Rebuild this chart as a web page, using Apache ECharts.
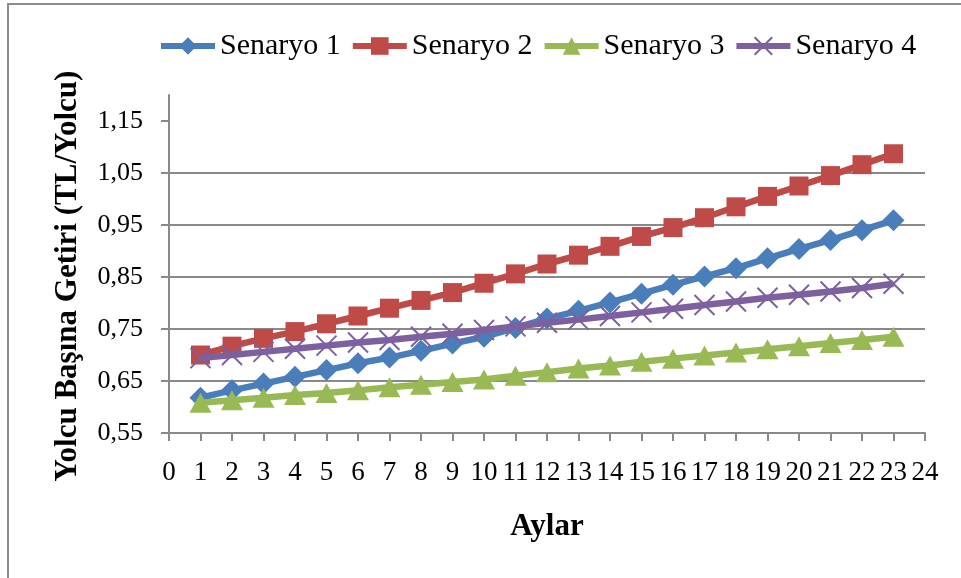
<!DOCTYPE html>
<html>
<head>
<meta charset="utf-8">
<script src="https://cdn.jsdelivr.net/npm/echarts@6/dist/echarts.min.js"></script>
<style>
  html, body { margin: 0; padding: 0; background: #ffffff; }
  #chart { width: 961px; height: 578px; }
</style>
</head>
<body>
<div id="chart"></div>
<script>
// Monthly revenue per passenger (TL/passenger) under four scenarios
const months = [1, 2, 3, 4, 5, 6, 7, 8, 9, 10, 11, 12, 13, 14, 15, 16, 17, 18, 19, 20, 21, 22, 23];
const seriesNames = ['Senaryo 1', 'Senaryo 2', 'Senaryo 3', 'Senaryo 4'];

const senaryo1 = [0.618, 0.632, 0.645, 0.658, 0.671, 0.684, 0.695, 0.708, 0.722, 0.735, 0.752, 0.770,
                  0.785, 0.801, 0.818, 0.835, 0.851, 0.867, 0.886, 0.904, 0.921, 0.940, 0.959];
const senaryo2 = [0.700, 0.717, 0.732, 0.745, 0.760, 0.775, 0.790, 0.805, 0.820, 0.838, 0.856, 0.875,
                  0.892, 0.909, 0.928, 0.945, 0.964, 0.985, 1.005, 1.025, 1.045, 1.066, 1.087];
const senaryo3 = [0.608, 0.613, 0.618, 0.623, 0.627, 0.632, 0.638, 0.643, 0.648, 0.653, 0.660, 0.667,
                  0.674, 0.680, 0.687, 0.693, 0.699, 0.705, 0.711, 0.717, 0.723, 0.729, 0.735];
const senaryo4 = [0.694, 0.700, 0.706, 0.712, 0.718, 0.724, 0.729, 0.735, 0.741, 0.748, 0.755, 0.762,
                  0.768, 0.775, 0.782, 0.789, 0.796, 0.803, 0.810, 0.816, 0.822, 0.829, 0.837];

const yTicks = [0.55, 0.65, 0.75, 0.85, 0.95, 1.05, 1.15];

const xTitle = 'Aylar';
const yTitle = 'Yolcu Başına Getiri (TL/Yolcu)';

const colors = ['#4A7EBB', '#BE4B48', '#98B954', '#7D60A0'];
const symbols = ['diamond', 'rect', 'triangle', 'path://M0,0L20,20M20,0L0,20'];
const symbolSizes = [22, 19, [22, 20], 20];

const FONT = 'Liberation Serif';
const GRID_GRAY = '#898989';
const LINE_WIDTH = 6.5;

const valueSets = [senaryo1, senaryo2, senaryo3, senaryo4];

const series = valueSets.map((vals, i) => {
  const isCross = i === 3;
  return {
    name: seriesNames[i],
    type: 'line',
    data: months.map((m, k) => [m, vals[k]]),
    symbol: symbols[i],
    symbolSize: symbolSizes[i],
    showAllSymbol: true,
    lineStyle: { color: colors[i], width: LINE_WIDTH },
    itemStyle: isCross
      ? { color: colors[i], borderColor: colors[i], borderWidth: 2 }
      : { color: colors[i], borderWidth: 0 },
    emphasis: { disabled: true },
    z: 2 + i
  };
});

const chart = echarts.init(document.getElementById('chart'), null, { renderer: 'canvas' });

chart.setOption({
  animation: false,
  backgroundColor: '#ffffff',
  color: colors,
  textStyle: { fontFamily: FONT, color: '#000' },
  graphic: [
    {
      type: 'rect',
      shape: { x: 8, y: 4, width: 1200, height: 1200 },
      style: { fill: 'none', stroke: '#8c8c8c', lineWidth: 2 },
      silent: true,
      z: -10
    },
    {
      type: 'text',
      x: 68,
      y: 276,
      rotation: Math.PI / 2,
      style: {
        text: yTitle,
        font: 'bold 31px "Liberation Serif"',
        fill: '#000',
        align: 'center',
        verticalAlign: 'middle'
      },
      silent: true
    }
  ],
  legend: {
    data: seriesNames,
    left: 153,
    top: 26,
    itemWidth: 54,
    itemHeight: 22,
    itemGap: 9,
    lineStyle: { width: 6 },
    textStyle: { fontFamily: FONT, fontSize: 30, color: '#000' },
    selectedMode: false
  },
  grid: { left: 169, right: 36, top: 95, bottom: 145, containLabel: false },
  xAxis: {
    type: 'value',
    min: 0,
    max: 24,
    interval: 1,
    name: xTitle,
    nameLocation: 'middle',
    nameGap: 78,
    nameTextStyle: { fontFamily: FONT, fontSize: 31, fontWeight: 'bold', color: '#000' },
    axisLine: { show: true, onZero: false, lineStyle: { color: GRID_GRAY, width: 2 } },
    axisTick: { show: true, inside: false, length: 8, lineStyle: { color: GRID_GRAY, width: 2 } },
    axisLabel: { fontFamily: FONT, fontSize: 27, color: '#000', margin: 26, formatter: v => String(v) },
    splitLine: { show: false }
  },
  yAxis: {
    type: 'value',
    min: 0.55,
    max: 1.2,
    interval: 0.1,
    axisLine: { show: true, lineStyle: { color: GRID_GRAY, width: 2 } },
    axisTick: { show: true, inside: false, length: 8, customValues: yTicks, lineStyle: { color: GRID_GRAY, width: 2 } },
    axisLabel: {
      fontFamily: FONT, fontSize: 26, color: '#000', margin: 26,
      customValues: yTicks,
      formatter: v => v.toFixed(2).replace('.', ',')
    },
    splitLine: { show: true, showMinLine: true, showMaxLine: false, lineStyle: { color: GRID_GRAY, width: 2 } }
  },
  series: series
});
</script>
</body>
</html>
